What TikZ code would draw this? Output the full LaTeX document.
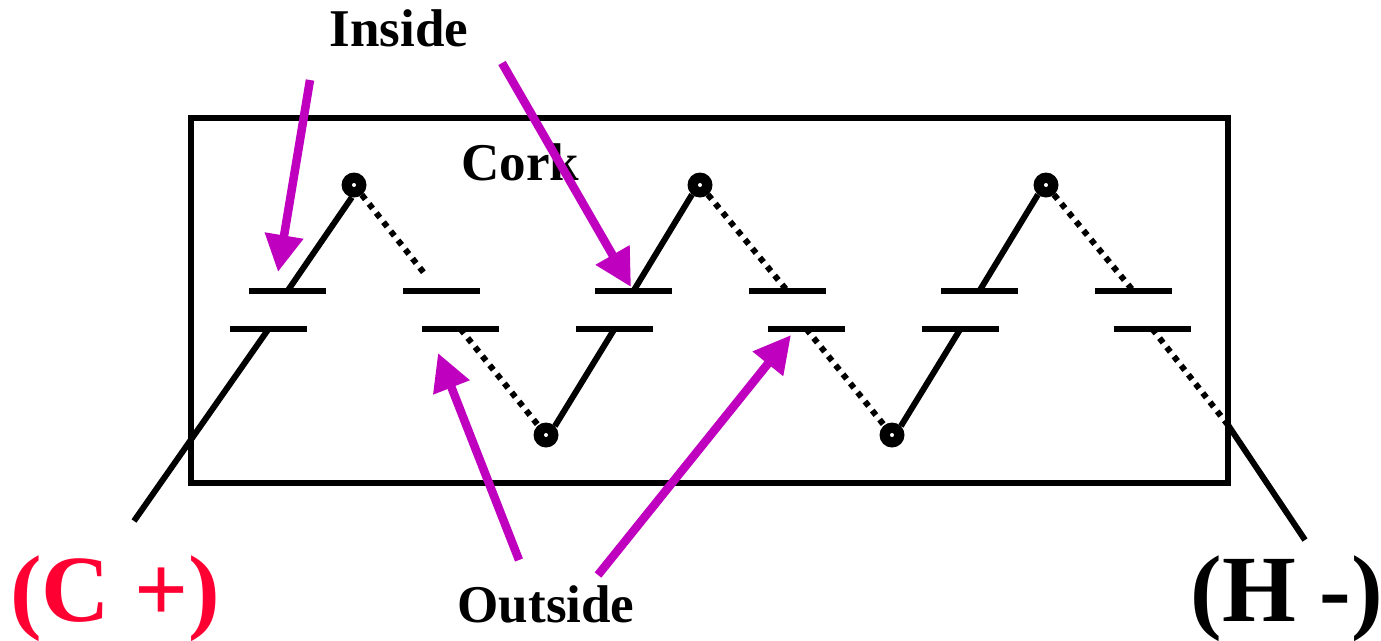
\documentclass[tikz,border=0pt]{standalone}
\usepackage{fontspec}
\setmainfont{Liberation Serif}
\usepackage{xcolor}
\definecolor{wirepurple}{HTML}{BF00BF}
\definecolor{plusred}{HTML}{FF0033}
\usepackage{tikz}
\usetikzlibrary{arrows.meta,positioning}

\begin{document}
\begin{tikzpicture}[
  x=0.02cm,y=-0.02cm,
  plate/.style={rectangle,fill=black,inner sep=0pt,outer sep=0pt,minimum width=1.54cm,minimum height=0.12cm},
  junction/.style={circle,fill=black,inner sep=0pt,outer sep=0pt,minimum size=0.5cm,
    path picture={\fill[white] (path picture bounding box.center) circle (0.04cm);}},
  txt/.style={anchor=base,inner sep=0pt,font=\fontsize{30.2}{36}\selectfont\bfseries},
  bigtxt/.style={anchor=base,inner sep=0pt,font=\fontsize{54}{60}\selectfont\bfseries},
  wire/.style={line width=0.12cm},
  dotwire/.style={line width=0.12cm,dash pattern=on 0.115cm off 0.118cm},
  arr/.style={-{Triangle[length=0.74cm,width=0.74cm]},wirepurple,line width=0.17cm},
]
\useasboundingbox (0,0) rectangle (1381,640);

% Cork block
\node[draw,line width=0.12cm,inner sep=0pt,minimum width=20.74cm,minimum height=7.3cm] (cork) at (709.5,300.5) {};

% Upper plates
\node[plate] (top1) at (287.5,291) {};
\node[plate,right=1.54cm of top1] (top2) {};
\node[plate,right=2.3cm of top2] (top3) {};
\node[plate,right=1.54cm of top3] (top4) {};
\node[plate,right=2.3cm of top4] (top5) {};
\node[plate,right=1.54cm of top5] (top6) {};

% Lower plates
\node[plate,below=0.64cm of top1,xshift=-0.38cm] (bot1) {};
\node[plate,below=0.64cm of top2,xshift=0.38cm] (bot2) {};
\node[plate,below=0.64cm of top3,xshift=-0.38cm] (bot3) {};
\node[plate,below=0.64cm of top4,xshift=0.38cm] (bot4) {};
\node[plate,below=0.64cm of top5,xshift=-0.38cm] (bot5) {};
\node[plate,below=0.64cm of top6,xshift=0.38cm] (bot6) {};

% Junctions
\node[junction] (up1) at (354,185) {};
\node[junction] (up2) at (700,185) {};
\node[junction] (up3) at (1046,185) {};
\node[junction] (low1) at (546,435) {};
\node[junction] (low2) at (892,435) {};

% Free ends
\coordinate (cfree) at (134,521);
\coordinate (hfree) at (1305,540);
\coordinate (hedge) at (1228,425);
\coordinate (gapend) at (424,273);

% Wires
\draw[wire] (cfree) -- (bot1.center);
\draw[wire] (top1.center) -- (up1.260);
\draw[dotwire] (up1) -- (gapend);
\draw[dotwire] (bot2.center) -- (low1);
\draw[wire] (low1.45) -- (bot3.center);
\draw[wire] (top3.center) -- (up2.230);
\draw[dotwire] (up2) -- (top4.center);
\draw[dotwire] (bot4.center) -- (low2);
\draw[wire] (low2.45) -- (bot5.center);
\draw[wire] (top5.center) -- (up3.230);
\draw[dotwire] (up3) -- (top6.center);
\draw[dotwire] (bot6.center) -- (hedge);
\draw[wire] (hedge) -- (hfree);

% Labels
\node[txt] (inside) at (399,46) {Inside};
\node[txt] (corklbl) at (520.5,180) {Cork};
\node[txt] (outside) at (546,622) {Outside};
\node[bigtxt,text=plusred] (cplus) at (115,621) {(C +)};
\node[bigtxt] (hminus) at (1287,621) {(H -)};

% Arrows
\coordinate (in1) at (310,80);
\coordinate (in1tip) at (278,272);
\coordinate (in2) at (502,63);
\coordinate (in2tip) at (631,287);
\coordinate (out1) at (519,560);
\coordinate (out1tip) at (438,353);
\coordinate (out2) at (598,575);
\coordinate (out2tip) at (791,335);
\draw[arr] (in1) -- (in1tip);
\draw[arr] (in2) -- (in2tip);
\draw[arr] (out1) -- (out1tip);
\draw[arr] (out2) -- (out2tip);
\end{tikzpicture}
\end{document}
